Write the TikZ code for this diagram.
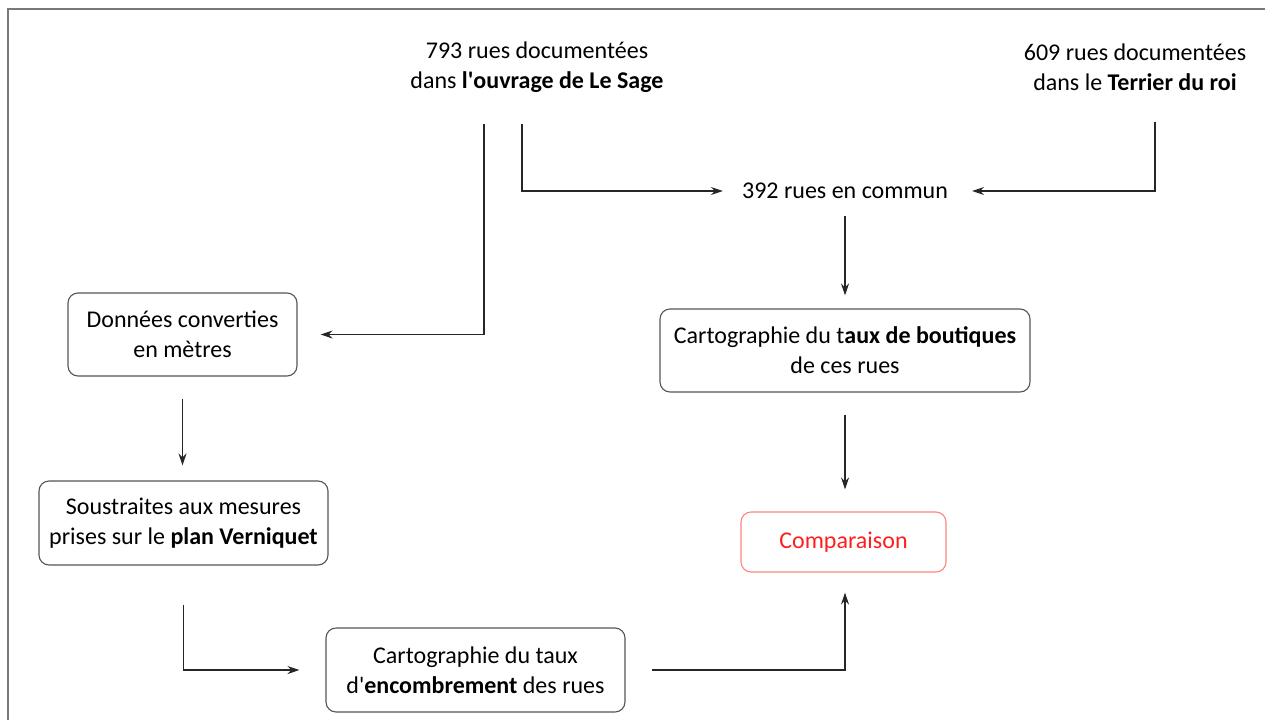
\documentclass[tikz,border=0pt]{standalone}
\usepackage{fontspec}
\setmainfont{Carlito}
\definecolor{boxgray}{RGB}{85,85,85}
\definecolor{framegray}{RGB}{120,120,120}
\definecolor{comparered}{RGB}{255,30,30}
\usepackage{tikz}
\usetikzlibrary{arrows.meta, positioning}
\tikzset{
  stepbox/.style={rectangle, rounded corners=10pt, draw=boxgray, line width=1.1pt,
    fill=white, text=black, align=center, inner sep=0pt},
  plain/.style={align=center, inner sep=3pt},
  arrow/.style={-{Stealth[length=12pt,width=8pt]}, line width=1.1pt, color=black!85},
}

\begin{document}
\begin{tikzpicture}[x=1pt, y=-1pt, font=\fontsize{24}{30}\selectfont]

\useasboundingbox (0,0) rectangle (1265,720);
\draw[framegray, line width=1.5pt] (8,720) -- (8,9) -- (1265,9);

% sources
\node[plain] (sage)    at (537,67)  {793 rues documentées\\dans \textbf{l\textquotesingle ouvrage de Le Sage}};
\node[plain] (terrier) at (1135,67) {609 rues documentées\\dans le \textbf{Terrier du roi}};
\node[plain] (commun)  at (845,191) {392 rues en commun};

% boxes
\node[stepbox, minimum width=229pt, minimum height=83pt] (donnees)      at (182.5,334.5) {Données converties\\en mètres};
\node[stepbox, minimum width=289pt, minimum height=84pt] (soustraites)  at (183.5,523)   {Soustraites aux mesures\\prises sur le \textbf{plan Verniquet}};
\node[stepbox, minimum width=299pt, minimum height=84pt] (encombrement) at (475.5,670)   {Cartographie du taux\\d\textquotesingle\textbf{encombrement} des rues};
\node[stepbox, minimum width=370pt, minimum height=83pt] (boutiques)    at (845,350.5)   {Cartographie du t\textbf{aux de boutiques}\\de ces rues};
\node[stepbox, draw=comparered!55, text=comparered, minimum width=205pt, minimum height=60pt] (comparaison) at (843.5,542) {Comparaison};

% arrows
\draw[arrow, shorten <=28pt, shorten >=23pt] ([xshift=-53pt]sage.south) |- (donnees.east);
\draw[arrow, shorten <=28pt, shorten >=16pt] ([xshift=-15pt]sage.south) |- (commun.west);
\draw[arrow, shorten <=28pt, shorten >=21pt] ([xshift=20pt]terrier.south) |- (commun.east);
\draw[arrow, shorten <=14pt, shorten >=13pt] (commun.south) -- (boutiques.north);
\draw[arrow, shorten <=22pt, shorten >=22pt] (boutiques.south) -- (boutiques.south |- comparaison.north);
\draw[arrow, shorten <=22pt, shorten >=15pt] (donnees.south) -- (donnees.south |- soustraites.north);
\draw[arrow, shorten <=39pt, shorten >=26pt] (soustraites.south) |- (encombrement.west);
\draw[arrow, shorten <=26pt, shorten >=20pt] (encombrement.east) -| (boutiques.south |- comparaison.south);

\end{tikzpicture}
\end{document}
